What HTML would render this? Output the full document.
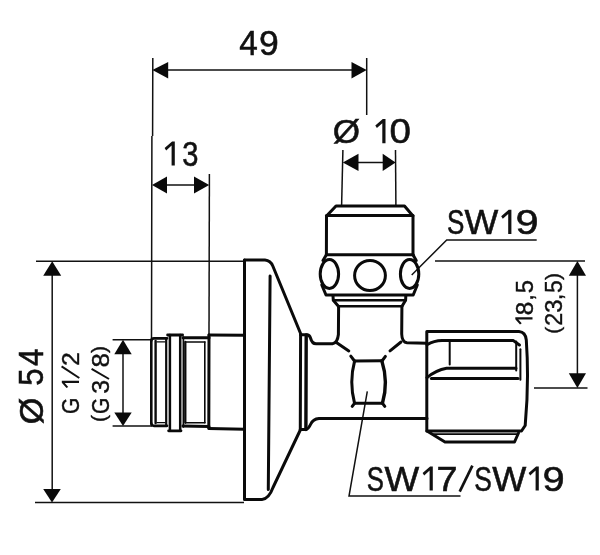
<!DOCTYPE html>
<html>
<head>
<meta charset="utf-8">
<title>Angle valve dimensional drawing</title>
<style>
html,body{margin:0;padding:0;background:#fff;}
body{width:600px;height:555px;overflow:hidden;}
svg{display:block;will-change:transform;}
text{font-family:"Liberation Sans",sans-serif;fill:#111;}
.t{stroke:#111;stroke-width:1.5;fill:none;stroke-linecap:butt;}
.b{stroke:#0a0a0a;stroke-width:3;fill:none;stroke-linecap:round;stroke-linejoin:round;}
.m{stroke:#0a0a0a;stroke-width:2.2;fill:none;stroke-linecap:round;stroke-linejoin:round;}
.a{fill:#0a0a0a;stroke:none;}
</style>
</head>
<body>
<svg width="600" height="555" viewBox="0 0 600 555">
<rect x="0" y="0" width="600" height="555" fill="#fff"/>

<!-- ===== dimension / extension lines ===== -->
<g class="t">
  <!-- 49 -->
  <path d="M152.8,58 L152.6,136 M151.9,136 L151.5,339"/>
  <path d="M366.7,58 L366.7,115"/>
  <path d="M160,70 L360,70"/>
  <!-- 13 -->
  <path d="M209.4,174 L209,336"/>
  <path d="M160,185 L200,185"/>
  <!-- dia 10 -->
  <path d="M342.9,150 L341.6,206"/>
  <path d="M395.5,150 L395.9,206"/>
  <path d="M350,162.4 L388,162.4"/>
  <!-- dia 54 -->
  <path d="M36,261.2 L244,261.2"/>
  <path d="M35,502.4 L244,502.4"/>
  <path d="M52.2,270 L52.2,495"/>
  <!-- G 1/2 -->
  <path d="M112.6,339.7 L152,339.7"/>
  <path d="M112.6,426 L152,426"/>
  <path d="M123,348 L123,418"/>
  <!-- 18,5 -->
  <path d="M435,261 L585,261"/>
  <path d="M534,388 L587.5,388"/>
  <path d="M577.4,270 L577.4,380"/>
  <!-- SW19 leader -->
  <path d="M536.7,240 L446.7,240 L411.7,275"/>
  <!-- SW17/SW19 leader -->
  <path d="M460.5,496 L349,496 L367.3,391.4"/>
</g>

<!-- arrows -->
<g class="a">
  <path d="M152.4,70 L168.2,62 L168.2,78.5 Z"/>
  <path d="M366.7,70 L351.5,62 L351.5,78.5 Z"/>
  <path d="M152,185 L167,176.5 L167,193.5 Z"/>
  <path d="M209.2,185 L194,176.5 L194,193.5 Z"/>
  <path d="M342.8,162.4 L358.5,153.8 L358.5,171 Z"/>
  <path d="M395.6,162.4 L382.7,153.8 L382.7,171 Z"/>
  <path d="M52.2,261.2 L43.2,275.8 L61.2,275.8 Z"/>
  <path d="M52,502.4 L43.2,489 L60.8,489 Z"/>
  <path d="M123,339.7 L114.3,354.2 L131.7,354.2 Z"/>
  <path d="M123,426 L114.3,412.4 L131.7,412.4 Z"/>
  <path d="M577.4,261 L568.8,275.8 L586,275.8 Z"/>
  <path d="M577.4,388 L568.8,373.2 L586,373.2 Z"/>
</g>

<!-- ===== texts ===== -->
<g>
  <text x="239.23" y="54.90" font-size="34.5" textLength="18.54" lengthAdjust="spacingAndGlyphs" stroke="#111" stroke-width="0.55">4</text>
  <text x="258.94" y="54.90" font-size="34.5" textLength="19.75" lengthAdjust="spacingAndGlyphs" stroke="#111" stroke-width="0.55">9</text>
  <polygon points="171.60,165.60 174.80,165.60 174.80,141.40 172.10,141.40 164.60,148.00 166.20,150.40 171.60,145.60" fill="#111"/>
  <text x="182.19" y="165.60" font-size="34.5" textLength="16.19" lengthAdjust="spacingAndGlyphs" stroke="#111" stroke-width="0.55">3</text>
  <text x="332.88" y="143.10" font-size="34" textLength="27.30" lengthAdjust="spacingAndGlyphs" stroke="#111" stroke-width="0.55">Ø</text>
  <polygon points="382.30,143.20 385.50,143.20 385.50,119.00 382.80,119.00 375.30,125.60 376.90,128.00 382.30,123.20" fill="#111"/>
  <text x="389.50" y="143.20" font-size="34.5" textLength="21.41" lengthAdjust="spacingAndGlyphs" stroke="#111" stroke-width="0.55">0</text>
  <text x="447.02" y="233.90" font-size="34.5" textLength="17.38" lengthAdjust="spacingAndGlyphs" stroke="#111" stroke-width="0.55">S</text>
  <text x="464.64" y="233.90" font-size="34.5" textLength="33.78" lengthAdjust="spacingAndGlyphs" stroke="#111" stroke-width="0.55">W</text>
  <polygon points="508.20,233.90 511.40,233.90 511.40,209.70 508.70,209.70 501.20,216.30 502.80,218.70 508.20,213.90" fill="#111"/>
  <text x="515.45" y="233.90" font-size="34.5" textLength="23.12" lengthAdjust="spacingAndGlyphs" stroke="#111" stroke-width="0.55">9</text>
  <text x="366.83" y="490.60" font-size="34.5" textLength="17.15" lengthAdjust="spacingAndGlyphs" stroke="#111" stroke-width="0.55">S</text>
  <text x="384.64" y="490.60" font-size="34.5" textLength="34.69" lengthAdjust="spacingAndGlyphs" stroke="#111" stroke-width="0.55">W</text>
  <polygon points="429.60,490.60 432.80,490.60 432.80,466.40 430.10,466.40 422.60,473.00 424.20,475.40 429.60,470.60" fill="#111"/>
  <text x="436.46" y="490.60" font-size="34.5" textLength="21.04" lengthAdjust="spacingAndGlyphs" stroke="#111" stroke-width="0.55">7</text>
  <path d="M459.70,491.60 L472.40,465.60" stroke="#111" stroke-width="2.7" fill="none"/>
  <text x="474.20" y="490.60" font-size="34.5" textLength="17.61" lengthAdjust="spacingAndGlyphs" stroke="#111" stroke-width="0.55">S</text>
  <text x="492.24" y="490.60" font-size="34.5" textLength="34.08" lengthAdjust="spacingAndGlyphs" stroke="#111" stroke-width="0.55">W</text>
  <polygon points="535.60,490.60 538.80,490.60 538.80,466.40 536.10,466.40 528.60,473.00 530.20,475.40 535.60,470.60" fill="#111"/>
  <text x="542.53" y="490.60" font-size="34.5" textLength="22.15" lengthAdjust="spacingAndGlyphs" stroke="#111" stroke-width="0.55">9</text>
  <g transform="rotate(-90)">
    <text x="-424.39" y="42.60" font-size="34" textLength="26.64" lengthAdjust="spacingAndGlyphs" stroke="#111" stroke-width="0.55">Ø</text>
    <text x="-385.75" y="42.70" font-size="34.5" textLength="17.36" lengthAdjust="spacingAndGlyphs" stroke="#111" stroke-width="0.55">5</text>
    <text x="-366.02" y="42.70" font-size="34.5" textLength="17.33" lengthAdjust="spacingAndGlyphs" stroke="#111" stroke-width="0.55">4</text>
    <text x="-414.06" y="79.00" font-size="24.5" textLength="16.32" lengthAdjust="spacingAndGlyphs" stroke="#111" stroke-width="0.4">G</text>
    <polygon points="-383.12,79.00 -380.84,79.00 -380.84,61.81 -382.76,61.81 -388.09,66.50 -386.95,68.21 -383.12,64.80" fill="#111"/>
    <text x="-365.71" y="79.00" font-size="24.5" textLength="13.43" lengthAdjust="spacingAndGlyphs" stroke="#111" stroke-width="0.4">2</text>
    <text x="-414.06" y="108.70" font-size="24.5" textLength="16.32" lengthAdjust="spacingAndGlyphs" stroke="#111" stroke-width="0.4">G</text>
    <text x="-393.86" y="108.70" font-size="24.5" textLength="13.96" lengthAdjust="spacingAndGlyphs" stroke="#111" stroke-width="0.4">3</text>
    <text x="-367.43" y="108.70" font-size="24.5" textLength="14.46" lengthAdjust="spacingAndGlyphs" stroke="#111" stroke-width="0.4">8</text>
    <polygon points="-319.52,532.50 -317.24,532.50 -317.24,515.31 -319.16,515.31 -324.49,520.00 -323.35,521.71 -319.52,518.30" fill="#111"/>
    <text x="-315.26" y="532.50" font-size="24.5" textLength="13.51" lengthAdjust="spacingAndGlyphs" stroke="#111" stroke-width="0.4">8</text>
    <text x="-300.80" y="532.50" font-size="24.5" textLength="6.81" lengthAdjust="spacingAndGlyphs" stroke="#111" stroke-width="0.4">,</text>
    <text x="-293.35" y="532.50" font-size="24.5" textLength="13.26" lengthAdjust="spacingAndGlyphs" stroke="#111" stroke-width="0.4">5</text>
    <text x="-325.87" y="562.40" font-size="24.5" textLength="12.94" lengthAdjust="spacingAndGlyphs" stroke="#111" stroke-width="0.4">2</text>
    <text x="-312.81" y="562.40" font-size="24.5" textLength="13.26" lengthAdjust="spacingAndGlyphs" stroke="#111" stroke-width="0.4">3</text>
    <text x="-300.30" y="562.40" font-size="24.5" textLength="6.81" lengthAdjust="spacingAndGlyphs" stroke="#111" stroke-width="0.4">,</text>
    <text x="-292.92" y="562.40" font-size="24.5" textLength="12.79" lengthAdjust="spacingAndGlyphs" stroke="#111" stroke-width="0.4">5</text>
    <text x="-422" y="106.2" font-size="21" stroke="#111" stroke-width="0.4">(</text>
    <text x="-353" y="106.2" font-size="21" stroke="#111" stroke-width="0.4">)</text>
    <text x="-333.8" y="560.2" font-size="21" stroke="#111" stroke-width="0.4">(</text>
    <text x="-280" y="560.2" font-size="21" stroke="#111" stroke-width="0.4">)</text>
  </g>
  <path d="M79.30,378.00 L61.60,366.30" stroke="#111" stroke-width="2.0" fill="none"/>
  <path d="M109.00,379.00 L91.60,368.90" stroke="#111" stroke-width="2.0" fill="none"/>
</g>

<!-- ===== valve body ===== -->
<g class="b">
  <!-- rosette -->
  <path d="M244.5,260 L265,260 Q270.5,260.5 272.8,266 L301,334.5"/>
  <path d="M244.5,260 L244.5,499.4 L262,499.4 Q268.8,499 273,487.5 L300.3,430"/>
  <path d="M270.1,276 L268.3,489.5"/>
  <!-- pipe between thread and rosette -->
  <path d="M209,335 L244.5,335.2"/>
  <path d="M209,428.4 L244.5,429.2"/>
  <path d="M209,335 L208.8,428.2"/>
  <!-- flange -->
  <path d="M300.6,334.7 L300.3,429.5"/>
  <path d="M306.2,335 L305.9,429.5" stroke-width="3.4"/>
  <path d="M300.6,334.7 L307.5,334.7 Q309.5,335 310.5,338 Q312,343.7 316,343.7 L332.5,343.7 Q337.5,343 338.4,334.5 L338.6,307"/>
  <path d="M300.3,429.5 L306,429.5 Q308.5,429 310.5,424.5 Q313,419 319,418.6 L427,418.4"/>
  <!-- neck right -->
  <path d="M401.9,307 L401.7,334 Q402,342.5 407,342.8 L427,343.2"/>
  <!-- diagonals -->
  <path d="M336,342.3 L348.8,351 M350.8,356.2 L354.5,361"/>
  <path d="M401,342 L390,350.8 M385.4,356.4 L382,361"/>
  <!-- hex -->
  <path d="M354.5,361 L381.8,360.8"/>
  <path d="M354.6,361 Q349,382 354.5,403"/>
  <path d="M381.8,360.8 Q388.6,382 382.5,403" stroke-width="3.4"/>
  <path d="M354.5,403.3 L382.5,403.3"/>
  <path d="M352.2,406.4 L354.5,403.3 M384.8,406.4 L382.5,403.3"/>
</g>

<!-- threaded part -->
<g class="m">
  <!-- left band -->
  <path d="M151.3,340.5 L151.3,423.5" stroke-width="2.6"/>
  <path d="M155.6,341 L155.6,423" stroke-width="2.4"/>
  <path d="M151.3,340.5 Q151.5,338.3 154,338.3 L167,338.3" stroke-width="2.7"/>
  <path d="M151.3,423.5 Q151.5,425.8 154,425.8 L167,425.8" stroke-width="2.7"/>
  <path d="M157,341.9 L165,341.9 M157,422.6 L165,422.6" stroke-width="1.3"/>
  <path d="M166.2,338.3 L166.2,425.8" stroke-width="2.2"/>
  <!-- ring -->
  <path d="M167.6,335 L182.6,335 M168.6,430.8 L181,430.8" stroke-width="2.8"/>
  <path d="M169.9,335 L169.9,430.8 M180.2,335 L180.2,430.8" stroke-width="2.5"/>
  <path d="M183.4,337 L183.4,427" stroke-width="1.7"/>
  <!-- right section -->
  <path d="M183,337.8 L209,337.8 M183,426 L209,426.4" stroke-width="3"/>
  <path d="M185.6,342 L205,342 M185.6,422.8 L205,422.8" stroke-width="1.5"/>
  <path d="M185.3,342 L185.3,422.8" stroke-width="2.3"/>
  <path d="M204.8,342 L204.8,422.8" stroke-width="1.6"/>
</g>

<!-- top cap + nut -->
<g class="b">
  <path d="M326.4,254.7 L326.5,216 L336,206 L404.5,206 L413,216 L413,254.7"/>
  <path d="M326.5,215.6 L413,215.6"/>
  <path d="M326.4,254.7 L413,254.7"/>
  <!-- nut outline -->
  <path d="M326.4,254.7 L323,260.5"/>
  <path d="M413,254.7 L416.2,260.5"/>
  <path d="M321.8,285 L326,295 L413.2,295 L417.3,285"/>
  <ellipse cx="329.4" cy="274" rx="9.2" ry="14.4"/>
  <ellipse cx="409.6" cy="274" rx="9.2" ry="14.4"/>
  <ellipse cx="370" cy="275.5" rx="15.4" ry="15.1"/>
  <!-- ring under nut -->
  <path d="M333,296 L333.3,300.3 L338.4,306.2"/>
  <path d="M405.8,296 L405.6,300.3 L402,306.2"/>
  <path d="M333.5,300.3 L405.5,300.3" stroke-width="2.5"/>
  <path d="M338.4,306.2 L402,306.2" stroke-width="2.5"/>
</g>

<!-- compression nut (right) -->
<g class="b">
  <path d="M426.8,331.4 L519,331.6 Q525.5,332.2 526.3,340 Q529.2,382 525.2,425.5 L521.5,431 L426.8,431 Z"/>
  <path d="M427,431 L445,442 L514.5,442 L518.5,433"/>
  <path d="M434,434.2 L518,434.2" stroke-width="1.8"/>
  <path d="M427,344.8 Q434,340.8 442,340.6 L513.4,340.6 L519.4,345"/>
  <path d="M449.7,340.6 L449.7,364.5" stroke-width="2"/>
  <path d="M516.2,341.5 L516.2,370.4" stroke-width="2"/>
  <path d="M520.4,349.3 L520.4,379.7" stroke-width="2"/>
  <path d="M427,377.6 Q436,370 446.6,368.2 L516,368.2"/>
  <path d="M431.4,378.6 L518,378.6"/>
</g>
</svg>
</body>
</html>
